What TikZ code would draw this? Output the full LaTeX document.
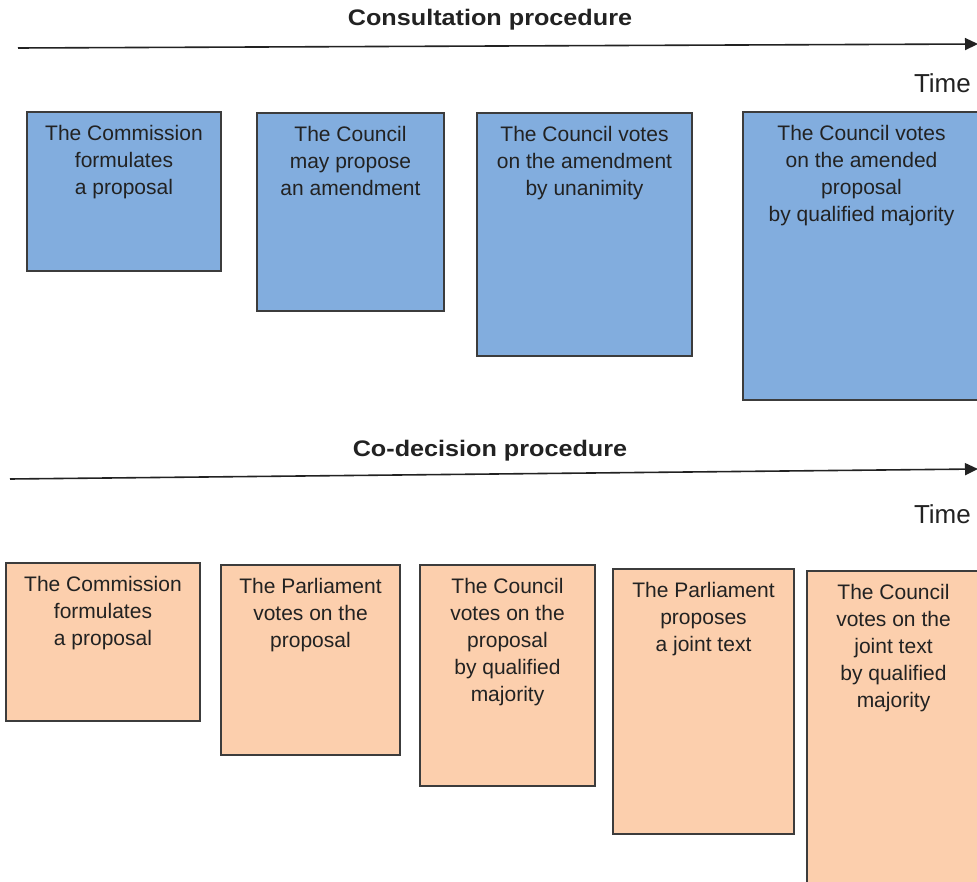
\documentclass[tikz,border=0pt]{standalone}
\usepackage{fontspec}
\setmainfont{Liberation Sans}
\newfontfamily\titlefont[FakeStretch=1.12]{Liberation Sans}
\usetikzlibrary{arrows.meta}

\definecolor{consultblue}{HTML}{82ADDE}
\definecolor{codecorange}{HTML}{FCCFAD}
\definecolor{edgegray}{HTML}{3C3C3C}
\definecolor{inkgray}{HTML}{222222}

\tikzset{
  stage/.style={draw=edgegray, line width=1.1pt, inner sep=0pt, outer sep=0pt,
    anchor=north west},
  stagetext/.style={anchor=north, align=center, inner sep=0pt, text=inkgray,
    font=\fontsize{21}{27}\selectfont},
  phase/.style={anchor=base, inner sep=0pt, text=inkgray,
    font=\titlefont\bfseries\fontsize{22.5}{27}\selectfont},
  timelbl/.style={anchor=base east, inner sep=0pt, text=inkgray,
    font=\fontsize{26}{30}\selectfont},
  timeline/.style={line width=1.6pt, draw=inkgray,
    -{Triangle[length=13pt, width=12pt]}},
}

\begin{document}
\begin{tikzpicture}[x=1pt, y=-1pt]

  \path[use as bounding box] (0,0) rectangle (977,882);
  \clip (0,0) rectangle (977,882);

  %% consultation procedure
  \node[phase] (cons) at (490,26) {Consultation procedure};
  \coordinate (cons-s) at (18,48);
  \coordinate (cons-e) at (978,44);
  \draw[timeline] (cons-s) -- (cons-e);
  \node[timelbl] (cons-time) at (971,93) {Time};

  \node[stage, fill=consultblue, minimum width=194pt, minimum height=159pt] (b1) at (27,112) {};
  \node[stage, fill=consultblue, minimum width=187pt, minimum height=198pt] (b2) at (257,113) {};
  \node[stage, fill=consultblue, minimum width=215pt, minimum height=243pt] (b3) at (477,113) {};
  \node[stage, fill=consultblue, minimum width=237pt, minimum height=288pt] (b4) at (743,112) {};

  \node[stagetext] (b1-txt) at ([yshift=-13pt]b1.north) {The Commission\\formulates\\a proposal};
  \node[stagetext] (b2-txt) at ([yshift=-13pt]b2.north) {The Council\\may propose\\an amendment};
  \node[stagetext] (b3-txt) at ([yshift=-13pt]b3.north) {The Council votes\\on the amendment\\by unanimity};
  \node[stagetext] (b4-txt) at ([yshift=-13pt]b4.north) {The Council votes\\on the amended\\proposal\\by qualified majority};

  %% co-decision procedure
  \node[phase] (codec) at (490,456) {Co-decision procedure};
  \coordinate (codec-s) at (10,479);
  \coordinate (codec-e) at (978,469);
  \draw[timeline] (codec-s) -- (codec-e);
  \node[timelbl] (codec-time) at (971,523) {Time};

  \node[stage, fill=codecorange, minimum width=194pt, minimum height=158pt] (o1) at (6,563) {};
  \node[stage, fill=codecorange, minimum width=179pt, minimum height=190pt] (o2) at (221,565) {};
  \node[stage, fill=codecorange, minimum width=175pt, minimum height=221pt] (o3) at (420,565) {};
  \node[stage, fill=codecorange, minimum width=181pt, minimum height=265pt] (o4) at (613,569) {};
  \node[stage, fill=codecorange, minimum width=173pt, minimum height=330pt] (o5) at (807,571) {};

  \node[stagetext] (o1-txt) at ([yshift=-13pt]o1.north) {The Commission\\formulates\\a proposal};
  \node[stagetext] (o2-txt) at ([yshift=-13pt]o2.north) {The Parliament\\votes on the\\proposal};
  \node[stagetext] (o3-txt) at ([yshift=-13pt]o3.north) {The Council\\votes on the\\proposal\\by qualified\\majority};
  \node[stagetext] (o4-txt) at ([yshift=-13pt]o4.north) {The Parliament\\proposes\\a joint text};
  \node[stagetext] (o5-txt) at ([yshift=-13pt]o5.north) {The Council\\votes on the\\joint text\\by qualified\\majority};

\end{tikzpicture}
\end{document}
